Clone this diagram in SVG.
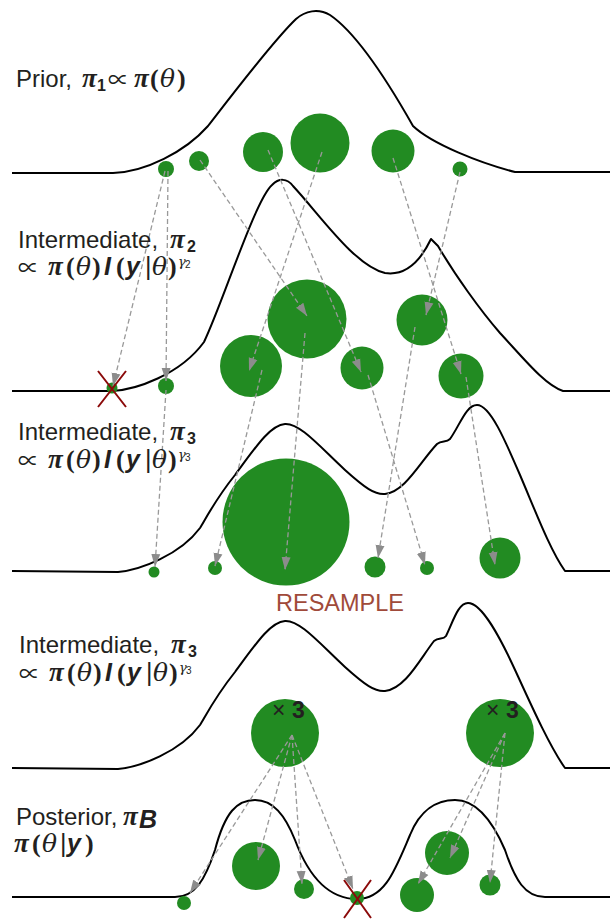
<svg xmlns="http://www.w3.org/2000/svg" width="610" height="919" viewBox="0 0 610 919">
<style>
.curve{fill:none;stroke:#000;stroke-width:2;stroke-linejoin:round}
.p{fill:#228b22}
.arr{fill:none;stroke:#999;stroke-width:1.3;stroke-dasharray:5,3;marker-end:url(#ah)}
.x{stroke:#8b0a0a;stroke-width:2}
.t{font-family:"Liberation Sans",Arial,sans-serif;font-size:24px;fill:#231f20}
.pi{font-family:"Liberation Serif","DejaVu Serif",serif;font-weight:bold;font-style:italic;font-size:27px}
.th{font-family:"DejaVu Serif","Liberation Serif",serif;font-style:italic;font-size:25px}
.par{font-family:"Liberation Serif",serif;font-weight:bold;font-size:26px}
.op{font-family:"Noto Sans CJK JP","DejaVu Sans",sans-serif;font-size:21px}
.sub{font-family:"Liberation Sans",Arial,sans-serif;font-weight:bold;font-size:16px}
.bi{font-family:"Liberation Sans",Arial,sans-serif;font-weight:bold;font-style:italic;font-size:25px}
.bar{font-family:"Liberation Sans",Arial,sans-serif;font-size:25px}
.sup{font-family:"DejaVu Serif",serif;font-style:italic;font-size:13px}
.sup2{font-family:"Liberation Sans",Arial,sans-serif;font-size:10px}
.rs{font-family:"Liberation Sans",Arial,sans-serif;font-size:23.5px;fill:#a04a3a}
.mul{font-family:"Liberation Sans",Arial,sans-serif;font-size:23px;fill:#231f20}
</style>
<defs>
<marker id="ah" markerWidth="14" markerHeight="10" refX="13" refY="5" orient="auto" markerUnits="userSpaceOnUse"><path d="M0,0.5 L13,5 L0,9.5 Z" fill="#8c8c8c" stroke="none"/></marker>
</defs>

<g id="curves">
<path id="curve-prior" class="curve" d="M12,173 L113,173 C145,172 185,152 208,126 C222,108 272,42 296,19 C305,11 318,8 330,15 C355,32 387,80 413,126 C432,144 480,163 515,172 L610,172"/>
<path id="curve-int2" class="curve" d="M12,391 L112,391 C135,390 180,375 204,342 C222,305 255,200 272,185 C279,178 287,178 293,186 C320,215 355,266 385,273 C405,276 420,262 431,239 L438,246 C455,275 480,310 500,333 C525,360 545,385 563,391 L610,391"/>
<path id="curve-int3" class="curve" d="M12,571 L118,572 C140,570 180,555 200,528 C205,520 215,500 235,475 C255,448 270,425 285,424 C300,423 320,447 345,470 C365,488 375,495 385,494 C405,492 420,462 437,444 C442,440 446,443 450,439 C460,425 466,405 477,405 C490,405 505,440 520,475 C535,510 550,550 565,571 L610,571"/>
<path id="curve-int3b" class="curve" d="M12,768 L118,769 C140,767 180,752 200,725 C205,717 215,697 235,672 C255,645 270,622 285,621 C300,620 320,644 345,667 C365,685 375,692 385,691 C405,689 420,659 434,641 C439,637 443,640 446,636 C453,622 458,603 468,603 C482,603 500,637 516,672 C532,707 550,747 565,768 L610,768"/>
<path id="curve-post" class="curve" d="M12,897 L175,897 C195,897 205,880 215,850 C225,812 237,800 255,800 C273,800 285,815 295,840 C310,880 330,899 357,899 C385,899 395,870 410,835 C420,810 437,800 455,800 C473,800 490,815 505,850 C515,880 525,897 545,897 L610,897"/>
</g>

<g id="particles">
<circle class="p" cx="166" cy="169" r="8"/>
<circle class="p" cx="199" cy="161" r="10"/>
<circle class="p" cx="263" cy="152" r="20"/>
<circle class="p" cx="320" cy="143" r="29.5"/>
<circle class="p" cx="393" cy="151" r="21.5"/>
<circle class="p" cx="460" cy="169" r="7.5"/>

<circle class="p" cx="112" cy="388" r="5.5"/>
<circle class="p" cx="166" cy="386" r="8"/>
<circle class="p" cx="251" cy="366" r="31"/>
<circle class="p" cx="307" cy="319" r="39.5"/>
<circle class="p" cx="362" cy="368" r="21.5"/>
<circle class="p" cx="422" cy="320" r="25.5"/>
<circle class="p" cx="461" cy="376" r="22.5"/>

<circle class="p" cx="154" cy="572" r="5.5"/>
<circle class="p" cx="215" cy="568" r="7"/>
<circle class="p" cx="286" cy="522" r="63.5"/>
<circle class="p" cx="375" cy="567" r="10.5"/>
<circle class="p" cx="427" cy="568" r="7"/>
<circle class="p" cx="500" cy="558" r="20.5"/>

<circle class="p" cx="285" cy="733" r="34"/>
<circle class="p" cx="500" cy="733" r="34"/>

<circle class="p" cx="184" cy="903" r="7"/>
<circle class="p" cx="256" cy="866" r="24"/>
<circle class="p" cx="304" cy="889" r="10"/>
<circle class="p" cx="357" cy="898" r="7"/>
<circle class="p" cx="447" cy="853" r="22"/>
<circle class="p" cx="417" cy="895" r="17"/>
<circle class="p" cx="490" cy="885" r="10.5"/>
</g>

<g id="connectors">
<path class="arr" d="M165,171 L113,386"/>
<path class="arr" d="M168,171 L166,381"/>
<path class="arr" d="M200,160 L307,316"/>
<path class="arr" d="M268,150 L361,372"/>
<path class="arr" d="M322,152 L249,371"/>
<path class="arr" d="M393,158 L461,374"/>
<path class="arr" d="M460,172 L426,315"/>

<path class="arr" d="M166,390 L155,567"/>
<path class="arr" d="M262,370 L215,566"/>
<path class="arr" d="M305,333 L285,570"/>
<path class="arr" d="M368,375 L425,565"/>
<path class="arr" d="M415,327 L378,558"/>
<path class="arr" d="M466,377 L495,565"/>

<path class="arr" d="M292,735 L190,893"/>
<path class="arr" d="M292,735 L258,860"/>
<path class="arr" d="M292,735 L302,884"/>
<path class="arr" d="M292,735 L353,889"/>
<path class="arr" d="M505,733 L418,884"/>
<path class="arr" d="M505,733 L450,858"/>
<path class="arr" d="M505,733 L490,883"/>
</g>

<g id="rejections">
<path class="x" d="M98,371 L126,407 M126,371 L98,407"/>
<path class="x" d="M344,880 L371,918 M371,880 L344,918"/>
</g>

<g id="label-prior">
<text class="t" y="87"><tspan x="16">Prior,</tspan><tspan class="pi" x="82">π</tspan><tspan class="sub" x="97" y="91">1</tspan><tspan class="op" x="108" y="87">∝</tspan><tspan class="pi" x="134">π</tspan><tspan class="par" x="150">(</tspan><tspan class="th" x="160">θ</tspan><tspan class="par" x="177">)</tspan></text>
</g>

<g id="label-int2">
<text class="t" y="248"><tspan x="18">Intermediate,</tspan><tspan class="pi" x="170">π</tspan><tspan class="sub" x="187" y="252">2</tspan></text>
<text class="t" y="275"><tspan class="op" x="18">∝</tspan><tspan class="pi" x="48">π</tspan><tspan class="par" x="66">(</tspan><tspan class="th" x="76">θ</tspan><tspan class="par" x="92">)</tspan><tspan class="bi" x="104">I</tspan><tspan class="par" x="116">(</tspan><tspan class="bi" x="126">y</tspan><tspan class="bar" x="145">|</tspan><tspan class="th" x="152">θ</tspan><tspan class="par" x="168">)</tspan><tspan class="sup" x="178" y="266">γ</tspan><tspan class="sup2" x="185" y="268">2</tspan></text>
</g>

<g id="label-int3">
<text class="t" y="440"><tspan x="18">Intermediate,</tspan><tspan class="pi" x="170">π</tspan><tspan class="sub" x="187" y="444">3</tspan></text>
<text class="t" y="468"><tspan class="op" x="18">∝</tspan><tspan class="pi" x="48">π</tspan><tspan class="par" x="66">(</tspan><tspan class="th" x="76">θ</tspan><tspan class="par" x="92">)</tspan><tspan class="bi" x="104">I</tspan><tspan class="par" x="116">(</tspan><tspan class="bi" x="126">y</tspan><tspan class="bar" x="145">|</tspan><tspan class="th" x="152">θ</tspan><tspan class="par" x="168">)</tspan><tspan class="sup" x="178" y="459">γ</tspan><tspan class="sup2" x="185" y="461">3</tspan></text>
</g>

<g id="resample">
<text class="rs" x="340" y="611" text-anchor="middle">RESAMPLE</text>
</g>

<g id="label-int3b">
<text class="t" y="653"><tspan x="19">Intermediate,</tspan><tspan class="pi" x="171">π</tspan><tspan class="sub" x="188" y="657">3</tspan></text>
<text class="t" y="681"><tspan class="op" x="19">∝</tspan><tspan class="pi" x="49">π</tspan><tspan class="par" x="67">(</tspan><tspan class="th" x="77">θ</tspan><tspan class="par" x="93">)</tspan><tspan class="bi" x="105">I</tspan><tspan class="par" x="117">(</tspan><tspan class="bi" x="127">y</tspan><tspan class="bar" x="146">|</tspan><tspan class="th" x="153">θ</tspan><tspan class="par" x="169">)</tspan><tspan class="sup" x="179" y="672">γ</tspan><tspan class="sup2" x="186" y="674">3</tspan></text>
</g>

<g id="mult">
<text class="mul" y="718"><tspan x="272">×</tspan><tspan x="292" font-weight="bold">3</tspan></text>
<text class="mul" y="718"><tspan x="486">×</tspan><tspan x="506" font-weight="bold">3</tspan></text>
</g>

<g id="label-post">
<text class="t" y="825"><tspan x="16">Posterior,</tspan><tspan class="pi" x="123">π</tspan><tspan class="bi" x="139" y="828" font-size="17">B</tspan></text>
<text class="t" y="852"><tspan class="pi" x="14">π</tspan><tspan class="par" x="32">(</tspan><tspan class="th" x="42">θ</tspan><tspan class="bar" x="60">|</tspan><tspan class="bi" x="67">y</tspan><tspan class="par" x="85">)</tspan></text>
</g>
</svg>
